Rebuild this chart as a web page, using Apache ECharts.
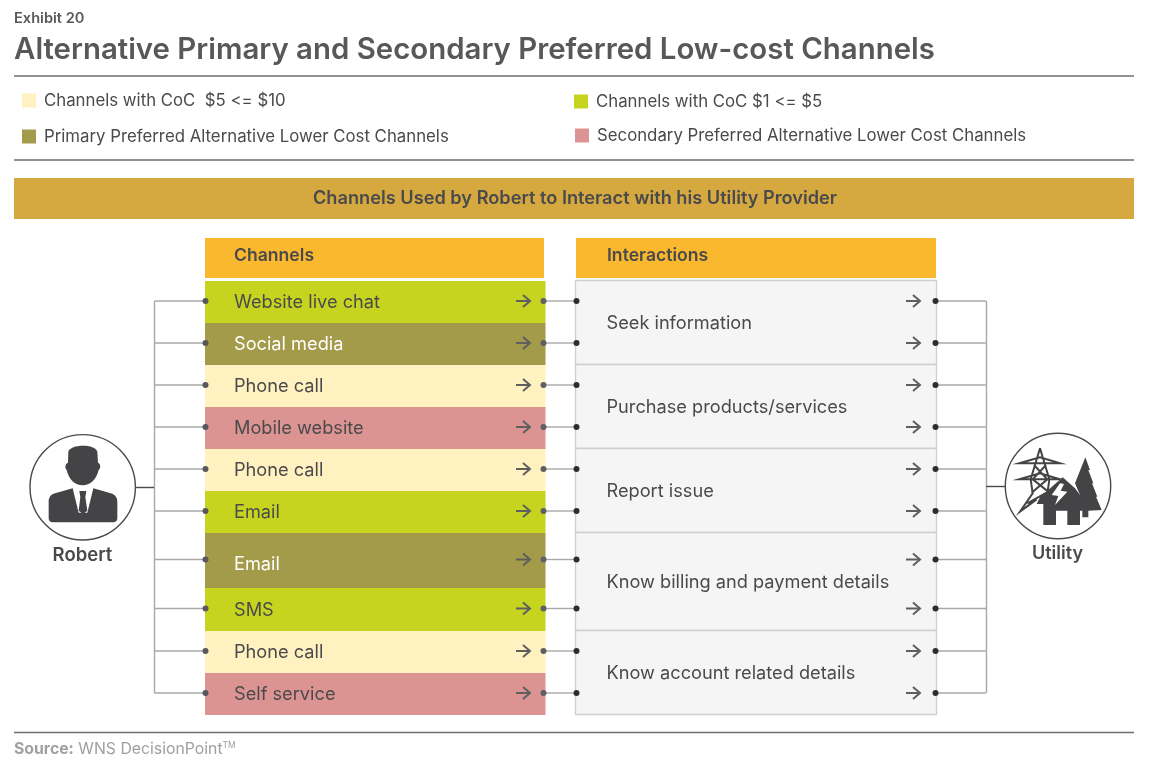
<!DOCTYPE html>
<html lang="en">
<head>
<meta charset="UTF-8">
<script src="https://cdn.jsdelivr.net/npm/echarts@6"></script>
<style>
    body { margin: 0; background: #fff; }
    #chart { width: 1150px; height: 770px; }
</style>
</head>
<body>
<div id="chart"></div>
<script>
    // chart content
    const exhibit = 'Exhibit 20';
    const heading = 'Alternative Primary and Secondary Preferred Low-cost Channels';
    const banner = 'Channels Used by Robert to Interact with his Utility Provider';
    const tierNames = [
        'Channels with CoC  $5 <= $10',
        'Channels with CoC $1 <= $5',
        'Primary Preferred Alternative Lower Cost Channels',
        'Secondary Preferred Alternative Lower Cost Channels'
    ];
    const channels = ['Website live chat', 'Social media', 'Phone call', 'Mobile website', 'Phone call',
        'Email', 'Email', 'SMS', 'Phone call', 'Self service'];
    const channelTier = [1, 2, 0, 3, 0, 1, 2, 1, 0, 3];
    const interactions = ['Seek information', 'Purchase products/services', 'Report issue',
        'Know billing and payment details', 'Know account related details'];
    const interactionRows = [2, 2, 2, 2, 2];

    // layout, separate from the content above
    const tierColors = ['#fff1c0', '#c6d420', '#a39a4a', '#dc9493'];
    const legendPos = [[22, 92], [574, 93], [22, 128], [575, 127]];
    const rowEdges = [281, 323, 365, 407, 449, 491, 533, 588, 631, 673, 715];
    const labelNudge = { 6: 5, 7: 2.5 };
    const FONT = 'Inter';
    const DARK = '#4a4a4c';
    const LINE = '#a8a8a8';
    const ICON = '#444446';

    const rowMid = i => (rowEdges[i] + rowEdges[i + 1]) / 2 - 1;

    function arrow(api, tipX, y, color) {
        const pts = [[tipX - 14, y], [tipX, y]];
        const head = [[tipX - 7, y - 6], [tipX, y], [tipX - 7, y + 6]];
        return [pts, head].map(p => ({
            type: 'polyline',
            shape: { points: p.map(q => api.coord(q)) },
            style: { stroke: color, lineWidth: 2, fill: null }
        }));
    }

    function hline(api, x1, x2, y, color, w) {
        const a = api.coord([x1, y]), b = api.coord([x2, y]);
        return { type: 'line', shape: { x1: a[0], y1: a[1], x2: b[0], y2: b[1] }, style: { stroke: color, lineWidth: w } };
    }

    function vline(api, x, y1, y2, color, w) {
        const a = api.coord([x, y1]), b = api.coord([x, y2]);
        return { type: 'line', shape: { x1: a[0], y1: a[1], x2: b[0], y2: b[1] }, style: { stroke: color, lineWidth: w } };
    }

    function dot(api, x, y, color) {
        const c = api.coord([x, y]);
        return { type: 'circle', shape: { cx: c[0], cy: c[1], r: 3 }, style: { fill: color } };
    }

    function label(api, text, x, y, color, size, weight) {
        const c = api.coord([x, y]);
        return {
            type: 'text',
            style: {
                text: text, x: c[0], y: c[1], fill: color, fontFamily: FONT,
                fontSize: size, fontWeight: weight || 400, align: 'left', verticalAlign: 'middle'
            }
        };
    }

    // one series per colour tier, so the legends come from the library
    const tierSeries = tierNames.map((name, t) => ({
        name: name,
        type: 'custom',
        coordinateSystem: 'cartesian2d',
        clip: false,
        itemStyle: { color: tierColors[t] },
        data: channels.map((c, i) => i).filter(i => channelTier[i] === t).map(i => [i]),
        renderItem: function (params, api) {
            const i = api.value(0);
            const a = api.coord([205, rowEdges[i]]), b = api.coord([545.5, rowEdges[i + 1]]);
            const y = rowMid(i) + (labelNudge[i] || 1.5);
            return {
                type: 'group',
                children: [
                    { type: 'rect', shape: { x: a[0], y: a[1], width: b[0] - a[0], height: b[1] - a[1] }, style: { fill: api.visual('color') } },
                    label(api, channels[i], 234, y, t === 2 ? '#ffffff' : DARK, 18.2)
                ].concat(arrow(api, 530, rowMid(i), '#5f5f5f'))
            };
        }
    }));

    const panelSeries = {
        type: 'custom',
        coordinateSystem: 'cartesian2d',
        clip: false,
        data: interactions.map((t, i) => [i]),
        renderItem: function (params, api) {
            const i = api.value(0);
            let first = 0;
            for (let k = 0; k < i; k++) first += interactionRows[k];
            const last = first + interactionRows[i];
            const a = api.coord([575.5, rowEdges[first] - 0.5]), b = api.coord([936.5, rowEdges[last] - 0.5]);
            return {
                type: 'group',
                children: [
                    { type: 'rect', shape: { x: a[0], y: a[1], width: b[0] - a[0], height: b[1] - a[1] }, style: { fill: '#f5f5f5', stroke: '#cfcfcf', lineWidth: 1.3 } },
                    label(api, interactions[i], 606.5, (rowEdges[first] + rowEdges[last]) / 2 + 0.5, DARK, 18.2)
                ]
            };
        }
    };

    const wireSeries = {
        type: 'custom',
        coordinateSystem: 'cartesian2d',
        clip: false,
        data: channels.map((c, i) => [i]),
        renderItem: function (params, api) {
            const i = api.value(0);
            const y = rowMid(i);
            return {
                type: 'group',
                children: [
                    hline(api, 154.5, 205, y, LINE, 1.4),
                    hline(api, 544, 576, y, LINE, 1.4),
                    hline(api, 935, 986, y, LINE, 1.4),
                    dot(api, 205.5, y, '#58585a'),
                    dot(api, 543.5, y, '#606062'),
                    dot(api, 576.5, y, '#2e2e30'),
                    dot(api, 935.5, y, '#2e2e30')
                ].concat(arrow(api, 920, y, '#5f5f5f'))
            };
        }
    };

    const frameSeries = {
        type: 'custom',
        coordinateSystem: 'cartesian2d',
        clip: false,
        data: [[0]],
        renderItem: function (params, api) {
            const bar = (x1, y1, x2, y2, color) => {
                const a = api.coord([x1, y1]), b = api.coord([x2, y2]);
                return { type: 'rect', shape: { x: a[0], y: a[1], width: b[0] - a[0], height: b[1] - a[1] }, style: { fill: color } };
            };
            const top = rowMid(0), bottom = rowMid(channels.length - 1);
            const c = api.coord([575, 199]);
            return {
                type: 'group',
                children: [
                    hline(api, 14, 1134, 76, '#6e6e70', 1.5),
                    hline(api, 14, 1134, 160, '#6e6e70', 1.5),
                    hline(api, 14, 1134, 732.5, '#6e6e70', 1.5),
                    bar(14, 178, 1134, 219, '#d5a93f'),
                    {
                        type: 'text',
                        style: { text: banner, x: c[0], y: c[1], fill: DARK, fontFamily: FONT, fontSize: 18.2, fontWeight: 600, align: 'center', verticalAlign: 'middle' }
                    },
                    bar(205, 238, 544, 278, '#f9b82e'),
                    bar(576, 238, 936, 278, '#f9b82e'),
                    label(api, 'Channels', 234, 256, DARK, 17.6, 600),
                    label(api, 'Interactions', 607, 256, DARK, 17.6, 600),
                    vline(api, 154.5, top, bottom, LINE, 1.4),
                    vline(api, 986.5, top, bottom, LINE, 1.4),
                    hline(api, 135, 154, 487.5, '#4a4a4c', 1.4),
                    hline(api, 986, 1005, 486.5, '#4a4a4c', 1.4)
                ]
            };
        }
    };

    // the two round icons, path coordinates are 3x the page pixels
    const iconPath = (d, fill, stroke) => ({
        type: 'path',
        shape: { pathData: d },
        style: stroke ? { fill: null, stroke: stroke, lineWidth: 6 } : { fill: fill }
    });

    const iconSeries = {
        type: 'custom',
        coordinateSystem: 'cartesian2d',
        clip: false,
        data: [[0]],
        renderItem: function (params, api) {
            const p1 = api.coord([82.7, 487.3]), p2 = api.coord([1058, 486]);
            const o1 = api.coord([0, 420]), o2 = api.coord([940, 420]);
            return {
                type: 'group',
                children: [
                    { type: 'circle', shape: { cx: p1[0], cy: p1[1], r: 52.7 }, style: { fill: '#fff', stroke: '#4a4a4c', lineWidth: 1.4 } },
                    {
                        type: 'group', x: o1[0], y: o1[1], scaleX: 1 / 3, scaleY: 1 / 3,
                        children: [
                            iconPath('M205 95 C210 72 285 70 292 95 L294 128 C302 130 303 145 296 150 C290 178 270 196 248 196 C225 196 206 178 200 150 C194 145 195 130 204 128 Z', ICON),
                            iconPath('M218 205 L165 220 C152 224 146 232 146 245 L146 295 C146 303 151 307 158 307 L340 307 C347 307 352 303 352 295 L352 245 C352 232 345 224 332 220 L280 205 L262 278 L236 278 Z', ICON),
                            iconPath('M238 213 L259 213 L256 232 L262 272 L249 282 L236 272 L241 232 Z', ICON)
                        ]
                    },
                    { type: 'circle', shape: { cx: p2[0], cy: p2[1], r: 52.7 }, style: { fill: '#fff', stroke: '#4a4a4c', lineWidth: 1.4 } },
                    {
                        type: 'group', x: o2[0], y: o2[1], scaleX: 1 / 3, scaleY: 1 / 3,
                        children: [
                            iconPath('M300 85 L272 178 L278 220 L240 275 L290 238 M300 85 L328 178 L322 222 M238 130 L300 112 L360 130 Z M238 178 L300 160 L360 178 Z M282 135 L322 178 L275 218 M318 135 L278 178 L325 215 L262 250', null, ICON),
                            iconPath('M436 112 L450 150 L445 150 L460 190 L456 190 L472 230 L468 230 L485 270 L445 272 L445 292 L427 292 L427 272 L405 272 L420 225 L405 190 Z', ICON),
                            iconPath('M368 172 L405 205 L420 225 L420 315 L382 315 L382 272 L348 272 L348 315 L310 315 L310 252 L290 252 L300 232 Z', ICON),
                            iconPath('M360 190 L335 225 L355 228 L345 255 L382 215 L362 212 L372 192 Z', '#ffffff')
                        ]
                    }
                ]
            };
        }
    };

    const option = {
        animation: false,
        backgroundColor: '#ffffff',
        textStyle: { fontFamily: FONT },
        grid: { left: 0, right: 0, top: 0, bottom: 0 },
        xAxis: { type: 'value', min: 0, max: 1150, show: false },
        yAxis: { type: 'value', min: 0, max: 770, inverse: true, show: false },
        title: [
            { text: exhibit, left: 14, top: 11, padding: 0, textStyle: { color: '#58585a', fontSize: 14.6, fontWeight: 600, fontFamily: FONT } },
            { text: heading, left: 14, top: 36, padding: 0, textStyle: { color: '#58585a', fontSize: 29.4, fontWeight: 600, fontFamily: FONT } },
            {
                text: '{b|Source:} WNS DecisionPoint{s|TM}',
                left: 14,
                top: 741,
                padding: 0,
                textStyle: {
                    color: '#a0a0a0', fontSize: 15.8, fontWeight: 400, fontFamily: FONT,
                    rich: {
                        b: { color: '#a0a0a0', fontSize: 15.8, fontWeight: 700, fontFamily: FONT },
                        s: { color: '#a0a0a0', fontSize: 8.5, fontFamily: FONT, verticalAlign: 'top', padding: [0, 0, 8, 0] }
                    }
                }
            },
            { text: 'Robert', left: 82.5, textAlign: 'center', top: 545.5, padding: 0, textStyle: { color: DARK, fontSize: 18.5, fontWeight: 600, fontFamily: FONT } },
            { text: 'Utility', left: 1057.5, textAlign: 'center', top: 545, padding: 0, textStyle: { color: DARK, fontSize: 18, fontWeight: 600, fontFamily: FONT } }
        ],
        legend: tierNames.map((name, t) => ({
            data: [name],
            left: legendPos[t][0],
            top: legendPos[t][1],
            padding: 0,
            icon: 'rect',
            itemWidth: 14,
            itemHeight: 14,
            itemGap: 0,
            selectedMode: false,
            textStyle: { color: DARK, fontSize: 16.8, fontFamily: FONT, padding: [0, 0, 0, 3] }
        })),
        series: [frameSeries, panelSeries].concat(tierSeries, [wireSeries, iconSeries])
    };

    const chart = echarts.init(document.getElementById('chart'));
    chart.setOption(option);
</script>
</body>
</html>
